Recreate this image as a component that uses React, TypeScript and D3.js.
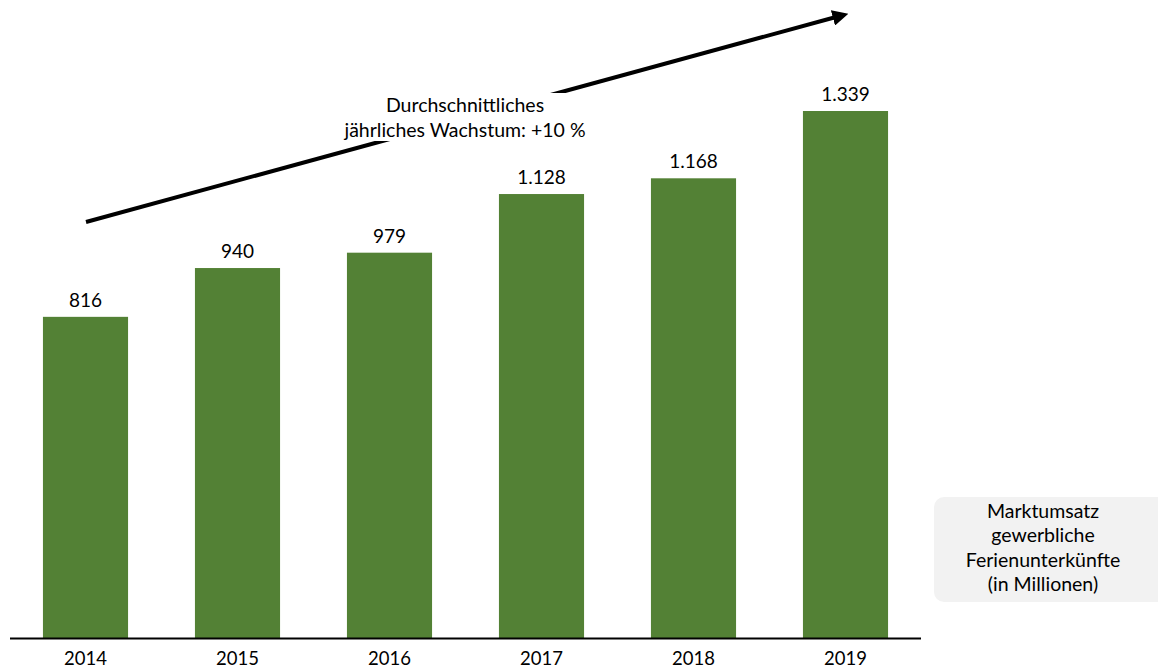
import React from 'react';
import * as d3 from 'd3';

const years = ['2014', '2015', '2016', '2017', '2018', '2019'];
const revenue = [816, 940, 979, 1128, 1168, 1339];
const revenueLabels = ['816', '940', '979', '1.128', '1.168', '1.339'];
const growthText = ['Durchschnittliches', 'jährliches Wachstum: +10 %'];
const legendText = ['Marktumsatz', 'gewerbliche', 'Ferienunterkünfte', '(in Millionen)'];

const W = 1158;
const H = 668;
const font = 'Lato, "Open Sans", sans-serif';

export default function App() {
  const x = d3.scaleBand<string>()
    .domain(years)
    .range([9.5, 921.5])
    .paddingInner(0.44)
    .paddingOuter(0.22);

  const y = d3.scaleLinear()
    .domain([0, 1339])
    .range([638, 111]);

  const arrow = d3.line()([[86, 222], [836, 17]]);

  return (
    <svg width={W} height={H} style={{position: 'absolute', left: 0, top: 0, background: '#fff'}}>
      <defs>
        <marker id="head" viewBox="0 0 10 10" refX="2" refY="5" markerWidth="4" markerHeight="4"
                orient="auto" markerUnits="strokeWidth">
          <path d="M0,0 L10,5 L0,10 z" fill="#000"/>
        </marker>
      </defs>

      {years.map((yr, i) => (
        <g key={yr}>
          <rect x={x(yr)} y={y(revenue[i])} width={x.bandwidth()}
                height={y(0) - y(revenue[i])} fill="#538135"/>
          <text x={x(yr)! + x.bandwidth() / 2} y={y(revenue[i]) - 10}
                textAnchor="middle" fontFamily={font} fontSize={19} fill="#000">
            {revenueLabels[i]}
          </text>
          <text x={x(yr)! + x.bandwidth() / 2} y={665}
                textAnchor="middle" fontFamily={font} fontSize={18.5} fill="#000">
            {yr}
          </text>
        </g>
      ))}

      <line x1={10} x2={921} y1={638.5} y2={638.5} stroke="#000" strokeWidth={2}/>

      <path d={arrow!} stroke="#000" strokeWidth={4} fill="none" markerEnd="url(#head)"/>
      <rect x={332} y={93} width={268} height={48} fill="#fff"/>
      {growthText.map((t, i) => (
        <text key={t} x={465} y={112 + i * 24.5} textAnchor="middle"
              fontFamily={font} fontSize={19.5} fill="#000">{t}</text>
      ))}

      <rect x={934} y={497} width={240} height={105} rx={10} fill="#f2f2f2"/>
      {legendText.map((t, i) => (
        <text key={t} x={1043} y={517.5 + i * 24.5} textAnchor="middle"
              fontFamily={font} fontSize={19.5} fill="#000">{t}</text>
      ))}
    </svg>
  );
}
